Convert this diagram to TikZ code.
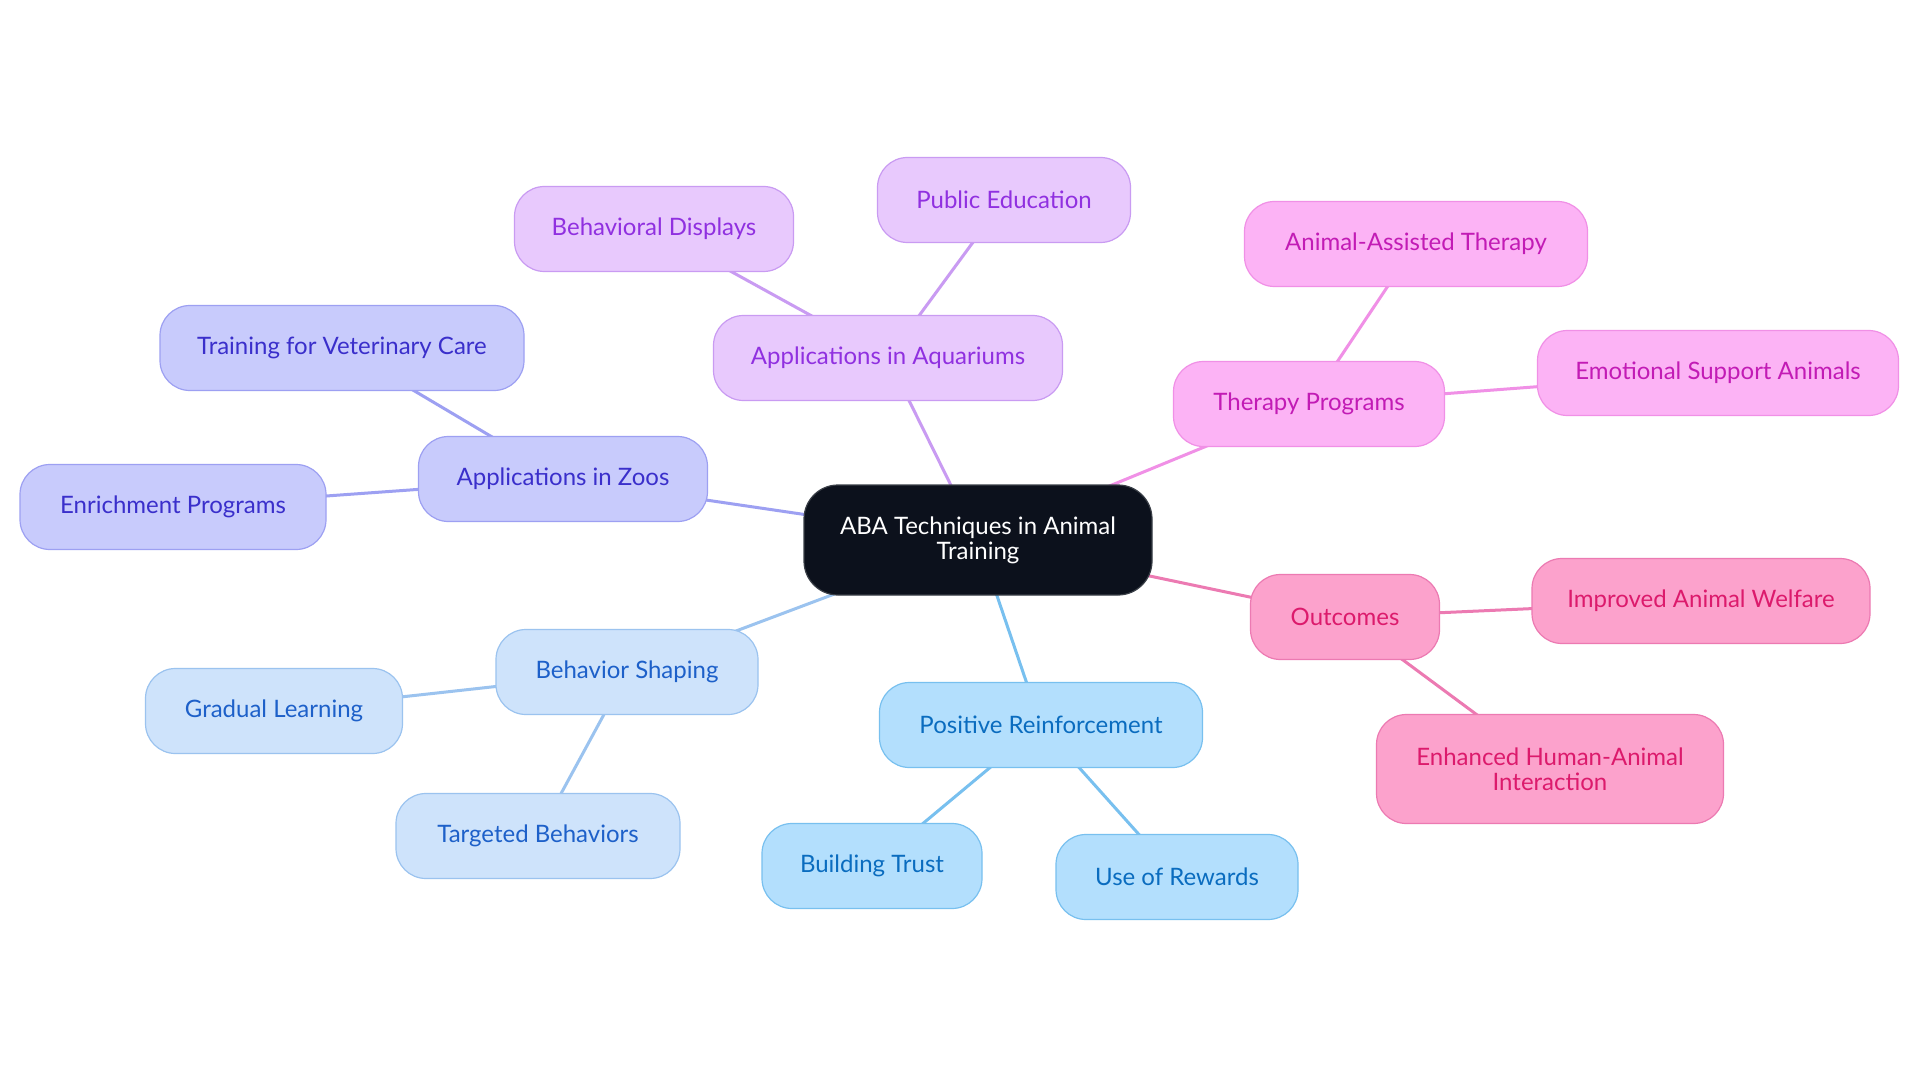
\documentclass[tikz,border=0pt]{standalone}
\usepackage{fontspec}
\setmainfont{Lato}
\usetikzlibrary{backgrounds}
\definecolor{rootF}{HTML}{0C111C}
\definecolor{rootD}{HTML}{3A3F47}
\definecolor{aqF}{HTML}{E8C9FD}
\definecolor{aqD}{HTML}{C99BF2}
\definecolor{aqT}{HTML}{9030E0}
\definecolor{thF}{HTML}{FCB3F5}
\definecolor{thD}{HTML}{F090E6}
\definecolor{thT}{HTML}{C21BB5}
\definecolor{ouF}{HTML}{FCA2CC}
\definecolor{ouD}{HTML}{EC7AB2}
\definecolor{ouT}{HTML}{DC1A6C}
\definecolor{prF}{HTML}{B3DFFD}
\definecolor{prD}{HTML}{78C0EF}
\definecolor{prT}{HTML}{0A6CBF}
\definecolor{bsF}{HTML}{CEE3FB}
\definecolor{bsD}{HTML}{9BC3EF}
\definecolor{bsT}{HTML}{1D60C9}
\definecolor{zoF}{HTML}{C8CBFC}
\definecolor{zoD}{HTML}{9DA0F2}
\definecolor{zoT}{HTML}{3A2FCB}
\tikzset{
  box/.style={rounded corners=30pt, line width=1.2pt, minimum height=85pt, align=center,
    font=\fontsize{24}{25}\selectfont, inner sep=0pt},
  rootbox/.style={box, fill=rootF, draw=rootD, text=white, minimum height=110pt, rounded corners=34pt},
  aq/.style={box, fill=aqF, draw=aqD, text=aqT},
  th/.style={box, fill=thF, draw=thD, text=thT},
  ou/.style={box, fill=ouF, draw=ouD, text=ouT},
  pr/.style={box, fill=prF, draw=prD, text=prT},
  bs/.style={box, fill=bsF, draw=bsD, text=bsT},
  zo/.style={box, fill=zoF, draw=zoD, text=zoT},
  link/.style={line width=3pt}
}
\begin{document}
\begin{tikzpicture}[x=1pt,y=-1pt]
\useasboundingbox (0,0) rectangle (1920,1083);
\node[rootbox, minimum width=348pt] (root) at (978,540) {ABA Techniques in Animal\\Training};
% Aquariums
\node[aq, minimum width=349pt] (aq) at (888,358) {Applications in Aquariums};
\node[aq, minimum width=279pt] (bd) at (654,229) {Behavioral Displays};
\node[aq, minimum width=253pt] (pe) at (1004,200) {Public Education};
% Therapy
\node[th, minimum width=271pt] (tp) at (1309,404) {Therapy Programs};
\node[th, minimum width=343pt] (aat) at (1416,244) {Animal-Assisted Therapy};
\node[th, minimum width=361pt] (esa) at (1718,373) {Emotional Support Animals};
% Outcomes
\node[ou, minimum width=189pt] (ou) at (1345,617) {Outcomes};
\node[ou, minimum width=338pt] (iaw) at (1701,601) {Improved Animal Welfare};
\node[ou, minimum width=347pt, minimum height=109pt] (ehai) at (1550,769) {Enhanced Human-Animal\\Interaction};
% Positive reinforcement
\node[pr, minimum width=323pt] (pr) at (1041,725) {Positive Reinforcement};
\node[pr, minimum width=220pt] (bt) at (872,866) {Building Trust};
\node[pr, minimum width=242pt] (ur) at (1177,877) {Use of Rewards};
% Behavior shaping
\node[bs, minimum width=262pt] (bs) at (627,672) {Behavior Shaping};
\node[bs, minimum width=257pt] (gl) at (274,711) {Gradual Learning};
\node[bs, minimum width=284pt] (tb) at (538,836) {Targeted Behaviors};
% Zoos
\node[zo, minimum width=289pt] (zo) at (563,479) {Applications in Zoos};
\node[zo, minimum width=364pt] (tvc) at (342,348) {Training for Veterinary Care};
\node[zo, minimum width=306pt] (ep) at (173,507) {Enrichment Programs};
\begin{scope}[on background layer]
\fill[white] (0,0) rectangle (1920,1083);
\draw[link, aqD] (root.center) -- (aq.center);
\draw[link, aqD] (aq.center) -- (bd.center);
\draw[link, aqD] (aq.center) -- (pe.center);
\draw[link, thD] (root.center) -- (tp.center);
\draw[link, thD] (tp.center) -- (aat.center);
\draw[link, thD] (tp.center) -- (esa.center);
\draw[link, ouD] (root.center) -- (ou.center);
\draw[link, ouD] (ou.center) -- (iaw.center);
\draw[link, ouD] (ou.center) -- (ehai.center);
\draw[link, prD] (root.center) -- (pr.center);
\draw[link, prD] (pr.center) -- (bt.center);
\draw[link, prD] (pr.center) -- (ur.center);
\draw[link, bsD] (root.center) -- (bs.center);
\draw[link, bsD] (bs.center) -- (gl.center);
\draw[link, bsD] (bs.center) -- (tb.center);
\draw[link, zoD] (root.center) -- (zo.center);
\draw[link, zoD] (zo.center) -- (tvc.center);
\draw[link, zoD] (zo.center) -- (ep.center);
\end{scope}
\end{tikzpicture}
\end{document}
